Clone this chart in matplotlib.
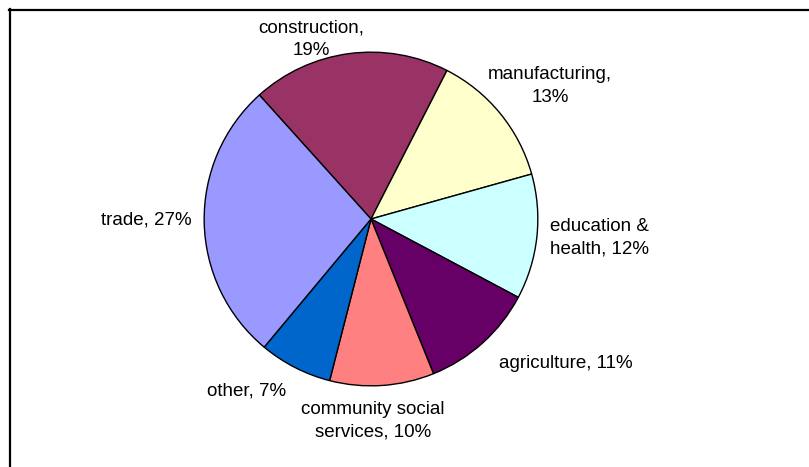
import matplotlib
matplotlib.use("Agg")
import matplotlib.pyplot as plt
from matplotlib.lines import Line2D

# sector shares of employment, clockwise from construction
sectors = ["construction", "manufacturing", "education &\nhealth", "agriculture",
           "community social\nservices", "other", "trade"]
shares = [19, 13, 12, 11, 10, 7, 27]
colors = ["#993366", "#FFFFCC", "#CCFFFF", "#660066", "#FF8080", "#0066CC", "#9999FF"]

# label text and where it sits (pixel centres, origin top-left)
label_text = ["construction,\n19%", "manufacturing,\n13%", "education &\nhealth, 12%",
              "agriculture, 11%", "community social\nservices, 10%", "other, 7%", "trade, 27%"]
label_pos = [(311, 39), (550, 86), (599, 238), (566, 363), (373, 421), (247, 391), (146, 220)]

W, H = 809, 467
plt.rcParams["font.family"] = ["Liberation Sans", "DejaVu Sans"]

fig = plt.figure(figsize=(W / 100, H / 100), dpi=100)
fig.patch.set_facecolor("white")

# pie centre and radius in pixels
cx, cy, r = 371, 219, 168.5
ax = fig.add_axes([(cx - r) / W, (H - cy - r) / H, 2 * r / W, 2 * r / H])
ax.pie(shares, colors=colors, startangle=132, counterclock=False, radius=1,
       wedgeprops=dict(edgecolor="black", linewidth=1.0))
ax.set_xlim(-1.01, 1.01)
ax.set_ylim(-1.01, 1.01)
ax.set_aspect("equal")
ax.axis("off")

for txt, (x, y) in zip(label_text, label_pos):
    fig.text(x / W, 1 - y / H, txt, ha="center", va="center", linespacing=1.4,
             multialignment="center", fontsize=13.5, color="black")

# chart frame (top and left edges)
fig.add_artist(Line2D([9 / W, 1], [1 - 9.5 / H, 1 - 9.5 / H], color="black", lw=1.6))
fig.add_artist(Line2D([9.5 / W, 9.5 / W], [0, 1 - 9 / H], color="black", lw=1.6))

fig.savefig("out.png", dpi=100)
